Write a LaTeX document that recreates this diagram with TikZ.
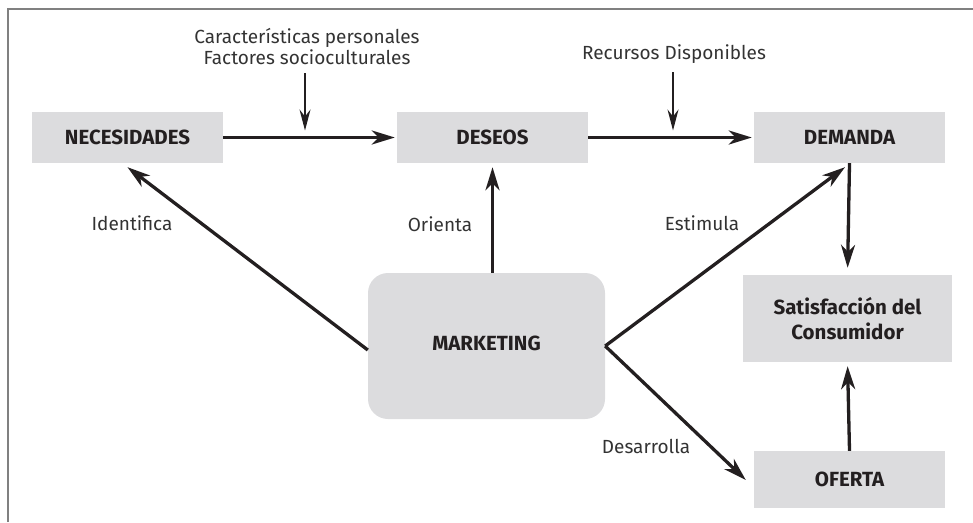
\documentclass[tikz,border=0pt]{standalone}
\usepackage{fontspec}
\setmainfont{Fira Sans}
\usetikzlibrary{arrows.meta,calc}
\definecolor{boxgray}{HTML}{DCDCDE}
\definecolor{ink}{HTML}{231F20}
\definecolor{labelink}{HTML}{333333}
\definecolor{framegray}{HTML}{808080}
\tikzset{
  box/.style={fill=boxgray, draw=none, inner sep=0pt, text=ink,
    font=\fontsize{20.5}{25}\selectfont\bfseries, align=center},
  lbl/.style={inner sep=0pt, text=labelink, font=\fontsize{19}{21}\selectfont, align=center},
  flow/.style={line width=3.3pt, draw=ink, -{Stealth[length=23pt,width=14pt,inset=7pt]}},
  hint/.style={line width=1.3pt, draw=ink, -{Stealth[length=21pt,width=11pt,inset=7pt]}},
}
\begin{document}
\begin{tikzpicture}[x=1pt,y=-1pt]
  \useasboundingbox (0,0) rectangle (973,522);
  % partial frame
  \draw[framegray, line width=2pt] (8,522) -- (8,9) -- (973,9);

  % boxes
  \node[box, minimum width=191pt, minimum height=51pt] (nec) at (127.5,137.5) {NECESIDADES};
  \node[box, minimum width=191pt, minimum height=51pt] (des) at (492.5,137.5) {DESEOS};
  \node[box, minimum width=191pt, minimum height=51pt] (dem) at (849.5,137.5) {DEMANDA};
  \node[box, minimum width=209pt, minimum height=87pt] (sat) at (847.5,318.5) {Satisfacción del\\Consumidor};
  \node[box, minimum width=191pt, minimum height=57pt] (ofe) at (849.5,479.5) {OFERTA};
  \node[box, minimum width=237pt, minimum height=146pt, rounded corners=20pt] (mkt) at (486.5,346) {\raisebox{5pt}{MARKETING}};

  % influence labels above the top row
  \node[lbl] (car) at (307,47) {Características personales\\Factores socioculturales};
  \node[lbl] (rec) at (674,54) {Recursos Disponibles};
  \coordinate (carTop) at (305,73);
  \coordinate (recTop) at (673,72);
  \draw[hint, shorten >=7pt] (carTop) -- (carTop |- nec.east);
  \draw[hint, shorten >=7pt] (recTop) -- (recTop |- des.east);

  % main flow
  \draw[flow, shorten >=2pt] (nec.east) -- (des.west);
  \draw[flow, shorten >=2pt] (des.east) -- (dem.west);
  \draw[flow, shorten >=7pt] (dem.south) -- (sat.north);
  \draw[flow, shorten >=4pt] (ofe.north) -- (sat.south);

  % marketing actions
  \coordinate (mktW) at ($(mkt.west)+(0,4)$);
  \coordinate (necTip) at ($(nec.south)+(0,4)$);
  \coordinate (demTip) at ($(dem.south)+(-4.5,4)$);
  \coordinate (ofeTip) at ($(ofe.west)+(-8,0.5)$);
  \draw[flow] (mktW) -- (necTip);
  \draw[flow, shorten >=4pt] (mkt.north -| des.south) -- (des.south);
  \draw[flow] (mkt.east) -- (demTip);
  \draw[flow] (mkt.east) -- (ofeTip);

  \node[lbl] (ide) at (132,223) {Identifica};
  \node[lbl] (ori) at (440,224) {Orienta};
  \node[lbl] (est) at (702,223) {Estimula};
  \node[lbl] (desa) at (646,446) {Desarrolla};
\end{tikzpicture}
\end{document}
